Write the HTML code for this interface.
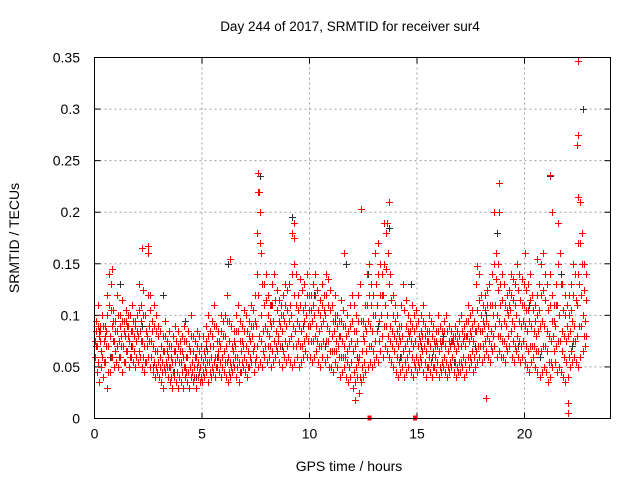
<!DOCTYPE html>
<html><head><meta charset="utf-8"><style>
body{margin:0;background:#fff}
svg{display:block;font-family:"Liberation Sans",sans-serif}
</style></head><body>
<svg id="chart" width="640" height="480">
<text x="350" y="31" font-size="13.5" text-anchor="middle">Day 244 of 2017, SRMTID for receiver sur4</text>
<text x="349" y="471" font-size="14" text-anchor="middle">GPS time / hours</text>
<text transform="translate(19,238) rotate(-90)" font-size="14" text-anchor="middle">SRMTID / TECUs</text>
<g id="grid"></g>
<g id="ticks"></g>
<g id="marks" shape-rendering="crispEdges"></g>
<rect x="94.5" y="57.5" width="516" height="361" fill="none" stroke="#000"/>
</svg>
<script>
const xTicks=[0,5,10,15,20];
const yTicks=[0,0.05,0.1,0.15,0.2,0.25,0.3,0.35];
const yTickLabels=["0","0.05","0.1","0.15","0.2","0.25","0.3","0.35"];
const lowBand=[60,45,35,50,40,55,30,45,60,50,55,50,60,45,55,65,50,60,55,50,55,60,50,45,55,60,50,45,40,45,40,35,30,45,40,35,30,40,35,30,35,30,40,35,30,40,35,30,40,35,35,40,45,35,40,45,40,50,45,40,45,40,35,40,45,50,40,35,45,50,45,40,50,55,45,60,50,55,50,60,55,60,50,55,60,65,55,50,60,55,60,55,50,55,60,50,55,60,65,60,60,55,60,65,55,50,60,55,60,50,50,45,55,50,40,45,50,40,35,40,30,35,40,25,35,40,45,50,55,50,55,60,55,65,60,70,65,60,55,50,45,40,45,50,40,45,50,45,40,50,45,50,55,45,40,50,45,40,50,45,40,45,50,45,40,45,50,45,40,45,45,50,40,45,50,55,45,50,55,60,55,60,65,60,55,65,70,60,65,60,60,55,65,70,60,55,65,60,55,60,55,50,45,55,60,50,45,40,45,50,45,35,40,50,55,45,50,45,40,35,40,50,55,60,55,50,60,65,70];
const lowMidBand=[70,55,90,60,55,70,45,60,75,65,70,60,70,55,65,80,60,70,65,60,65,75,60,55,70,75,60,55,50,55,50,45,50,50,50,40,45,55,45,40,45,50,45,45,50,45,40,50,45,40,45,50,55,45,50,55,50,60,55,50,55,55,45,50,55,60,50,45,55,60,55,50,60,65,55,70,80,75,65,70,70,70,65,75,70,75,70,65,75,70,75,80,70,70,75,70,70,75,80,75,75,75,80,75,70,70,75,75,75,65,65,65,65,60,60,60,60,55,50,55,45,50,55,40,50,55,65,70,70,65,75,85,75,80,90,90,80,75,70,65,60,55,60,65,55,60,65,60,55,60,55,60,65,55,50,60,55,50,60,55,50,55,60,55,50,55,60,55,50,55,55,60,55,60,60,65,60,65,70,70,70,75,80,75,70,80,90,80,80,75,75,70,80,85,75,70,80,75,70,75,70,65,70,70,70,65,65,65,70,70,65,55,55,65,70,75,75,65,60,55,60,65,75,75,80,90,90,80,80];
const midBand=[75,70,80,65,75,85,70,80,90,75,85,75,80,70,80,90,75,85,80,75,80,85,75,70,80,90,75,70,65,65,60,55,65,55,60,50,55,65,60,55,55,60,50,60,65,55,50,60,55,50,55,60,65,55,60,70,60,65,70,60,65,70,60,55,65,70,60,55,65,70,70,65,75,80,70,90,120,100,85,90,85,80,90,95,85,80,90,85,95,90,95,100,90,85,95,90,85,95,100,90,90,95,100,90,85,90,95,100,90,85,80,85,75,70,80,75,70,65,70,75,65,70,75,60,65,75,85,95,90,85,100,110,95,100,120,110,100,90,85,80,75,70,75,80,70,75,80,75,70,75,70,75,80,70,65,75,70,65,70,70,65,70,75,70,65,70,75,70,65,70,70,75,70,80,75,80,75,85,90,85,85,90,95,90,85,100,110,100,95,90,95,90,100,105,95,90,100,95,90,95,90,85,95,90,85,80,85,90,95,90,85,80,75,80,90,110,100,85,80,75,80,85,95,90,110,130,120,100,95];
const midHighBand=[85,90,75,90,80,100,110,105,95,85,100,90,95,85,95,100,85,95,90,85,105,95,100,85,120,105,85,90,85,80,70,65,80,65,70,60,65,75,70,65,65,75,60,70,80,65,60,70,65,60,65,75,80,70,80,90,75,75,85,80,80,95,75,70,75,85,85,75,75,85,85,80,90,90,95,140,170,130,110,115,100,95,110,115,105,95,100,100,110,105,110,140,120,110,105,110,105,110,120,105,105,110,120,105,100,110,105,120,110,105,95,100,90,80,95,90,80,85,90,95,85,85,95,95,80,90,110,120,110,100,130,140,120,120,150,145,130,115,100,95,85,80,90,105,90,85,85,90,85,90,80,85,95,80,75,85,80,75,75,85,75,75,85,85,75,75,75,80,75,80,85,80,80,95,85,90,85,105,115,100,95,105,110,110,110,150,135,125,110,115,110,105,110,120,115,110,125,115,110,110,105,105,115,105,95,100,105,120,125,115,105,110,95,95,110,150,130,105,100,90,100,105,120,115,140,170,150,125,115];
const highBand=[95,110,85,100,90,120,140,130,105,95,120,100,115,95,105,90,100,110,95,100,130,110,125,100,160,120,95,110,100,90,85,80,95,75,85,70,80,90,85,75,80,90,75,85,100,80,75,85,80,70,80,90,100,85,95,110,90,85,100,95,100,120,95,90,85,100,110,95,90,105,100,95,110,105,120,180,220,160,130,140,120,110,130,140,125,115,110,120,130,125,130,180,150,140,120,135,125,130,140,120,120,130,140,125,115,130,120,140,135,125,110,120,100,95,115,105,90,100,110,120,110,100,120,130,95,110,140,150,130,120,160,170,150,140,190,180,160,140,120,110,100,90,110,130,115,100,95,110,100,105,95,100,110,90,85,100,95,90,85,100,90,85,95,100,90,85,80,90,85,95,100,90,95,110,100,105,95,130,140,120,110,120,125,130,140,200,160,150,130,140,130,120,125,140,135,130,150,140,135,130,125,130,140,120,110,120,130,150,160,140,130,140,120,110,130,190,160,130,120,110,120,130,150,140,170,210,180,150,140];
const spikeTimes=[7.6,7.6,7.7,9.3,9.3,12.4,13.7,13.6,18.8,18.8,21.2,21.3,22.5,22.5,22.45,22.5,22.0,22.0,2.5,2.2,12.1,18.2,0.8,6.3,11.6,17.8,20.0,20.6];
const spikeValues=[0.238,0.22,0.2,0.19,0.175,0.203,0.21,0.19,0.228,0.2,0.236,0.2,0.347,0.275,0.265,0.215,0.015,0.005,0.167,0.165,0.018,0.02,0.145,0.155,0.16,0.148,0.16,0.155];
const blackValues=[85,60,130,70,90,50,120,45,95,40,70,60,150,55,80,235,110,70,195,90,120,70,95,150,60,140,90,185,60,130,70,60,80,55,90,70,100,180,120,70,110,60,235,140,70,300];
const zeroTimes=[12.8,14.9];

const NS="http://www.w3.org/2000/svg";
const X0=94.5,X1=610.5,Y0=418.5,Y1=57.5;
const xs=t=>X0+(X1-X0)*t/24;
const ys=v=>Y0-(Y0-Y1)*v/0.35;
const grid=document.getElementById('grid'),ticks=document.getElementById('ticks'),marks=document.getElementById('marks');
function mk(tag,attrs,parent){const e=document.createElementNS(NS,tag);for(const k in attrs)e.setAttribute(k,attrs[k]);parent.appendChild(e);return e;}
xTicks.forEach(t=>{
  const x=xs(t);
  if(t>0){const g=mk('line',{x1:x,x2:x,y1:Y1,y2:Y0,stroke:'#a0a0a0','stroke-dasharray':'2,3'},grid);
  
  }
  mk('line',{x1:x,x2:x,y1:Y0,y2:Y0-6,stroke:'#000'},ticks);
  mk('line',{x1:x,x2:x,y1:Y1,y2:Y1+6,stroke:'#000'},ticks);
  const tx=mk('text',{x:x,y:Y0+20,'font-size':14,'text-anchor':'middle'},ticks);tx.textContent=t;
  
  
});
yTicks.forEach((v,i)=>{
  const y=ys(v);
  if(i>0&&i<yTicks.length-1){const g=mk('line',{x1:X0,x2:X1,y1:y,y2:y,stroke:'#a0a0a0','stroke-dasharray':'2,3'},grid);
  
  }
  mk('line',{x1:X0,x2:X0+6,y1:y,y2:y,stroke:'#000'},ticks);
  mk('line',{x1:X1,x2:X1-6,y1:y,y2:y,stroke:'#000'},ticks);
  const tx=mk('text',{x:80,y:y+5,'font-size':14,'text-anchor':'end'},ticks);tx.textContent=yTickLabels[i];
  
  
});
function plus(t,v,color,name){
  const x=Math.round(xs(t)),y=Math.round(ys(v));
  const g=mk('g',{fill:color},marks);
  
  
  mk('rect',{x:x-3,y:y,width:7,height:1},g);
  mk('rect',{x:x,y:y-3,width:1,height:7},g);
}
blackValues.forEach((v,i)=>plus(i*0.5+0.2,v/1000,'#303030','black-point'));
[[lowBand,0],[lowMidBand,0.05],[midBand,0.025],[midHighBand,0.075],[highBand,0.066]].forEach(([arr,off])=>{
  arr.forEach((v,i)=>plus(i*0.1+off,v/1000,'#ff0000','red-point'));
});
spikeTimes.forEach((t,i)=>plus(t,spikeValues[i],'#ff0000','red-spike-point'));
zeroTimes.forEach(t=>{
  const r=mk('rect',{x:xs(t)-2,y:Y0-3,width:4,height:5,fill:'#ff0000'},marks);
  
  
});
</script>
</body></html>
